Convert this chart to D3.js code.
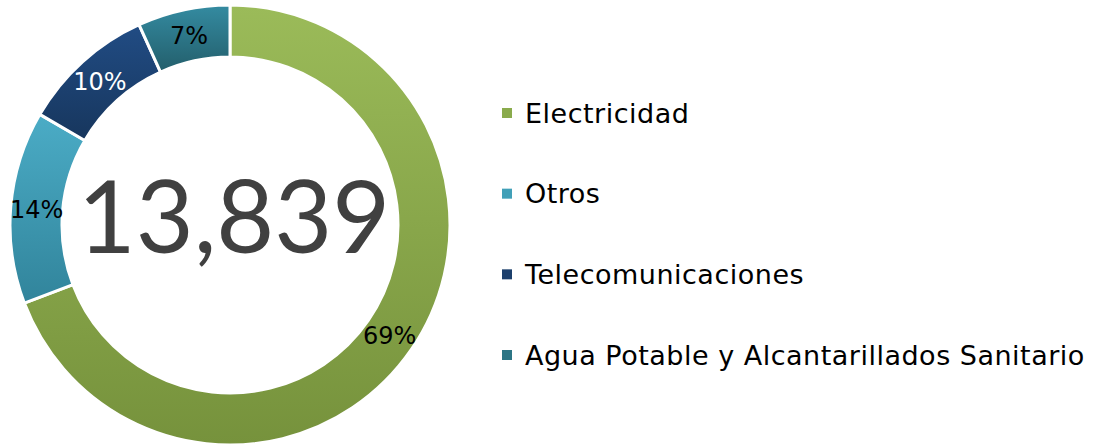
<!DOCTYPE html>
<html>
<head>
<meta charset="utf-8">
<script src="https://cdn.jsdelivr.net/npm/d3@7"></script>
<style>
    body { margin: 0; background: #ffffff; }
    svg { display: block; }
</style>
</head>
<body>
<svg class="chart"></svg>
<script>
var categories = ["Electricidad", "Otros", "Telecomunicaciones", "Agua Potable y Alcantarillados Sanitario"];
var values = [9580, 1960, 1360, 939];
var topColors = ["#9bbb59", "#4bacc6", "#214c84", "#348ba1"];
var bottomColors = ["#76923c", "#31849b", "#17365d", "#235e6b"];
var legendColors = ["#8aab4c", "#41a0b8", "#1c3f6c", "#2c7585"];
var totalLabel = "13,839";

var width = 1094, height = 447;
var center = {x: 230, y: 225};
var outerRadius = 220, innerRadius = 168;

var svg = d3.select(".chart")
        .attr("width", width)
        .attr("height", height);

var defs = svg.append("defs");
categories.forEach(function (name, i) {
    var grad = defs.append("linearGradient")
            .attr("id", "grad" + i)
            .attr("x1", 0).attr("y1", 0)
            .attr("x2", 0).attr("y2", 1);
    grad.append("stop").attr("offset", "0%").attr("stop-color", topColors[i]);
    grad.append("stop").attr("offset", "100%").attr("stop-color", bottomColors[i]);
});

var pie = d3.pie().sort(null).value(function (d) { return d; });
var arc = d3.arc().innerRadius(innerRadius).outerRadius(outerRadius);
var total = d3.sum(values);

var donut = svg.append("g")
        .attr("transform", "translate(" + center.x + "," + center.y + ")");

var slices = donut.selectAll(".slice")
        .data(pie(values))
        .enter().append("g")
        .attr("class", "slice");

slices.append("path")
        .attr("d", arc)
        .attr("fill", function (d, i) { return "url(#grad" + i + ")"; })
        .attr("stroke", "#ffffff")
        .attr("stroke-width", 3);

slices.append("text")
        .attr("transform", function (d) { return "translate(" + arc.centroid(d) + ")"; })
        .attr("text-anchor", "middle")
        .attr("dy", "0.36em")
        .style("font-family", "'DejaVu Sans', sans-serif")
        .style("font-size", "24px")
        .style("fill", function (d, i) { return i == 2 ? "#ffffff" : "#000000"; })
        .text(function (d) { return Math.round(d.value / total * 100) + "%"; });

donut.append("text")
        .attr("x", 4)
        .attr("y", 28)
        .attr("text-anchor", "middle")
        .style("font-family", "Lato, sans-serif")
        .style("font-size", "100px")
        .style("fill", "#404040")
        .text(totalLabel);

// legend
var legendY = d3.scalePoint()
        .domain(categories)
        .range([113, 355]);

var legend = svg.selectAll(".legendItem")
        .data(categories)
        .enter().append("g")
        .attr("class", "legendItem")
        .attr("transform", function (d) { return "translate(502," + legendY(d) + ")"; });

legend.append("rect")
        .attr("x", 0)
        .attr("y", -5)
        .attr("width", 10)
        .attr("height", 10)
        .attr("fill", function (d, i) { return legendColors[i]; });

legend.append("text")
        .attr("x", 23)
        .attr("dy", "0.36em")
        .style("font-family", "'DejaVu Sans', sans-serif")
        .style("font-size", "27px")
        .style("letter-spacing", "0.5px")
        .style("fill", "#000000")
        .text(function (d) { return d; });
</script>
</body>
</html>
